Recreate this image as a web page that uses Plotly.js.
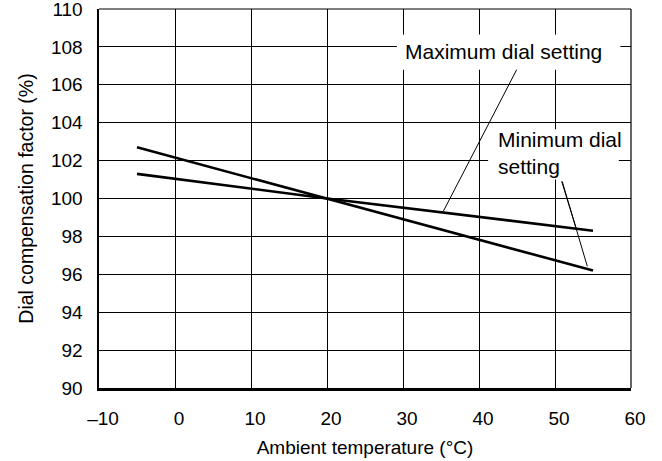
<!DOCTYPE html>
<html>
<head>
<meta charset="utf-8">
<script src="https://cdn.plot.ly/plotly-3.0.1.min.js"></script>
<style>html,body{margin:0;padding:0;background:#fff;}#chart{width:662px;height:461px;}</style>
</head>
<body>
<div id="chart"></div>
<script>
// Data
const temperature = [-5, 20, 55];
const maxDialFactor = [101.3, 100, 98.3];
const minDialFactor = [102.7, 100, 96.2];

const xTickValues = [-10, 0, 10, 20, 30, 40, 50, 60];
const xTickLabels = ['\u201310', '0', '10', '20', '30', '40', '50', '60'];
const yTickValues = [90, 92, 94, 96, 98, 100, 102, 104, 106, 108, 110];
const yTickLabels = ['90', '92', '94', '96', '98', '100', '102', '104', '106', '108', '110'];

const seriesNames = ['Maximum dial setting', 'Minimum dial setting'];

const FONT = 'Liberation Sans, Arial, Helvetica, sans-serif';

const traces = [
  {x: temperature, y: maxDialFactor, name: seriesNames[0], mode: 'lines', line: {color: '#000', width: 2.6}},
  {x: temperature, y: minDialFactor, name: seriesNames[1], mode: 'lines', line: {color: '#000', width: 2.6}}
];

const layout = {
  width: 662, height: 461,
  margin: {l: 99, r: 31, t: 9, b: 73},
  paper_bgcolor: '#fff', plot_bgcolor: '#fff',
  showlegend: false,
  font: {family: FONT, color: '#000', size: 19},
  xaxis: {
    range: [-10, 60], tickmode: 'array', tickvals: xTickValues, ticktext: xTickLabels,
    showgrid: true, gridcolor: '#000', gridwidth: 1, zeroline: false,
    showline: true, linecolor: '#000', linewidth: 2.5,
    ticks: '', ticklabelstandoff: 12, ticklabelshift: 4, ticklabeloverflow: 'allow',
    tickfont: {family: FONT, size: 19, color: '#000'},
    title: {text: 'Ambient temperature (\u00b0C)', font: {family: FONT, size: 19, color: '#000'}, standoff: 13}
  },
  yaxis: {
    range: [90, 110], tickmode: 'array', tickvals: yTickValues, ticktext: yTickLabels,
    showgrid: true, gridcolor: '#000', gridwidth: 1, zeroline: false,
    showline: true, linecolor: '#000', linewidth: 2.5,
    ticks: '', ticklabelstandoff: 10, ticklabeloverflow: 'allow',
    tickfont: {family: FONT, size: 19, color: '#000'},
    title: {text: 'Dial compensation factor (%)', font: {family: FONT, size: 19.5, color: '#000'}, standoff: 12}
  },
  shapes: [
    // frame (top and right edges)
    {type: 'line', xref: 'paper', yref: 'paper', x0: 0, x1: 1, y0: 1, y1: 1, line: {color: '#000', width: 1.2}, layer: 'above'},
    {type: 'line', xref: 'paper', yref: 'paper', x0: 1, x1: 1, y0: 0, y1: 1, line: {color: '#000', width: 1.2}, layer: 'above'},
    // white label backgrounds that interrupt the grid
    {type: 'rect', xref: 'x', yref: 'y', x0: 29.2, x1: 58.6, y0: 106.8, y1: 108.65, fillcolor: '#fff', line: {width: 0}, layer: 'above'},
    {type: 'rect', xref: 'x', yref: 'y', x0: 41.2, x1: 58.4, y0: 101.0, y1: 103.65, fillcolor: '#fff', line: {width: 0}, layer: 'above'},
    // leader lines
    {type: 'line', xref: 'x', yref: 'y', x0: 44.96, y0: 106.8, x1: 35.3, y1: 99.32, line: {color: '#000', width: 1}, layer: 'above'},
    {type: 'line', xref: 'x', yref: 'y', x0: 50.88, y0: 100.9, x1: 52.84, y1: 98.35, line: {color: '#000', width: 1}, layer: 'above'},
    {type: 'line', xref: 'x', yref: 'y', x0: 50.95, y0: 100.9, x1: 54.25, y1: 96.42, line: {color: '#000', width: 1}, layer: 'above'}
  ],
  annotations: [
    {x: 43.2, y: 107.75, xref: 'x', yref: 'y', text: seriesNames[0], showarrow: false,
     xanchor: 'center', yanchor: 'middle', font: {family: FONT, size: 21, color: '#000'}},
    {x: 42.2, y: 102.38, xref: 'x', yref: 'y', text: 'Minimum dial<br>setting', showarrow: false,
     xanchor: 'left', yanchor: 'middle', align: 'left', font: {family: FONT, size: 21, color: '#000'}}
  ]
};

Plotly.newPlot('chart', traces, layout, {displayModeBar: false, staticPlot: true});
</script>
</body>
</html>
